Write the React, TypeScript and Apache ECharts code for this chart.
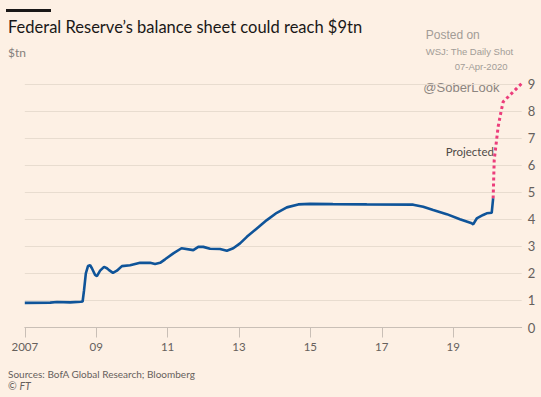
import React, { useEffect, useRef } from "react";
import * as echarts from "echarts";

const balanceYears = [2007.0, 2007.71, 2007.9, 2008.27, 2008.57, 2008.62, 2008.66, 2008.71, 2008.77, 2008.83, 2008.88, 2008.97, 2009.02, 2009.11, 2009.22, 2009.3, 2009.36, 2009.47, 2009.58, 2009.72, 2009.95, 2010.23, 2010.51, 2010.65, 2010.79, 2010.93, 2011.16, 2011.39, 2011.72, 2011.86, 2012.0, 2012.19, 2012.47, 2012.66, 2012.84, 2013.03, 2013.22, 2013.5, 2013.78, 2014.06, 2014.34, 2014.66, 2014.99, 2015.63, 2016.58, 2017.88, 2018.16, 2018.44, 2018.82, 2019.19, 2019.52, 2019.56, 2019.66, 2019.84, 2019.94, 2020.08, 2020.12];
const balanceValues = [0.91, 0.92, 0.94, 0.93, 0.95, 0.96, 1.38, 2.0, 2.27, 2.3, 2.19, 1.94, 1.9, 2.1, 2.24, 2.19, 2.12, 2.02, 2.1, 2.27, 2.3, 2.39, 2.39, 2.35, 2.39, 2.52, 2.74, 2.93, 2.86, 2.98, 2.98, 2.91, 2.9, 2.84, 2.93, 3.11, 3.35, 3.66, 3.97, 4.24, 4.44, 4.55, 4.57, 4.56, 4.55, 4.54, 4.46, 4.34, 4.19, 4.0, 3.85, 3.81, 4.03, 4.16, 4.22, 4.24, 4.77];

const projectedYears = [2020.12, 2020.15, 2020.26, 2020.34, 2020.4, 2020.59, 2020.78, 2020.92];
const projectedValues = [4.77, 6.19, 7.42, 7.97, 8.34, 8.59, 8.84, 9.02];

const xTickYears = [2007, 2009, 2011, 2013, 2015, 2017, 2019];
const yTicks = [0, 1, 2, 3, 4, 5, 6, 7, 8, 9];

const FONT = "Lato";
const BG = "#fdf0e4";

export default function App() {
  const ref = useRef<HTMLDivElement>(null);

  useEffect(() => {
    document.body.style.margin = "0";
    document.body.style.background = BG;
    if (!ref.current) return;
    const chart = echarts.init(ref.current, null, { renderer: "svg" });

    const balance = balanceYears.map((y, i) => [y, balanceValues[i]]);
    const projected = projectedYears.map((y, i) => [y, projectedValues[i]]);

    chart.setOption({
      animation: false,
      backgroundColor: BG,
      textStyle: { fontFamily: FONT },
      grid: { left: 24.8, right: 19.3, top: 84, bottom: 69.5, containLabel: false },
      xAxis: {
        type: "value",
        min: 2007,
        max: 2020.92,
        axisLine: { show: true, lineStyle: { color: "#c9bfb6", width: 1 } },
        axisTick: {
          show: true,
          length: 10,
          customValues: xTickYears,
          lineStyle: { color: "#c9bfb6" },
        },
        axisLabel: {
          customValues: xTickYears,
          margin: 13,
          color: "#66605c",
          fontSize: 11.5,
          fontFamily: FONT,
          formatter: (v: number) => (v === 2007 ? "2007" : String(v).slice(2)),
        },
        splitLine: { show: false },
      },
      yAxis: {
        type: "value",
        position: "right",
        min: 0,
        max: 9,
        interval: 1,
        axisLine: { show: false },
        axisTick: { show: false },
        axisLabel: {
          margin: 6,
          color: "#66605c",
          fontSize: 13,
          fontFamily: FONT,
          formatter: (v: number) => (yTicks.includes(v) ? String(v) : ""),
        },
        splitLine: { show: true, lineStyle: { color: "#e8dccf", width: 1 } },
      },
      series: [
        {
          type: "line",
          data: balance,
          showSymbol: false,
          clip: false,
          lineStyle: { color: "#0f5499", width: 2.6 },
          z: 3,
        },
        {
          type: "line",
          data: projected,
          showSymbol: false,
          clip: false,
          lineStyle: { color: "#ec3d7b", width: 3, type: [3, 3] },
          z: 2,
        },
      ],
      graphic: [
        { type: "rect", shape: { x: 6, y: 9, width: 45, height: 3 }, style: { fill: "#1a1817" } },
        {
          type: "text",
          x: 8,
          y: 26.5,
          style: {
            text: "Federal Reserve\u2019s balance sheet could reach $9tn",
            fontSize: 16.5,
            fontFamily: FONT,
            fill: "#1a1817",
            verticalAlign: "middle",
          },
        },
        {
          type: "text",
          x: 8,
          y: 52.5,
          style: { text: "$tn", fontSize: 12, fontFamily: FONT, fill: "#85807b", verticalAlign: "middle" },
        },
        {
          type: "text",
          x: 425.7,
          y: 35,
          style: { text: "Posted on", fontSize: 12, fontFamily: "Liberation Sans", fill: "#a29c97", verticalAlign: "middle" },
        },
        {
          type: "text",
          x: 425.7,
          y: 51.5,
          style: { text: "WSJ: The Daily Shot", fontSize: 9.5, fontFamily: "Liberation Sans", fill: "#a29c97", verticalAlign: "middle" },
        },
        {
          type: "text",
          x: 507.5,
          y: 66.5,
          style: { text: "07-Apr-2020", fontSize: 9.5, fontFamily: "Liberation Sans", fill: "#a29c97", verticalAlign: "middle", align: "right" },
        },
        {
          type: "text",
          x: 423.3,
          y: 87,
          style: { text: "@SoberLook", fontSize: 13, fontFamily: "Liberation Sans", fill: "#8c8580", verticalAlign: "middle" },
        },
        {
          type: "text",
          x: 445.7,
          y: 151.7,
          style: { text: "Projected", fontSize: 11.5, fontFamily: FONT, fill: "#4f4a46", verticalAlign: "middle" },
        },
        {
          type: "text",
          x: 8,
          y: 374.3,
          style: { text: "Sources: BofA Global Research; Bloomberg", fontSize: 10, fontFamily: FONT, fill: "#66605c", verticalAlign: "middle" },
        },
        {
          type: "text",
          x: 8,
          y: 386,
          style: {
            text: "\u00a9 {i|FT}",
            fontSize: 10.5,
            fontFamily: FONT,
            fill: "#66605c",
            verticalAlign: "middle",
            rich: { i: { fontStyle: "italic", fontSize: 10.5, fontFamily: FONT, fill: "#66605c" } },
          },
        },
      ],
    });

    return () => chart.dispose();
  }, []);

  return <div ref={ref} style={{ width: 541, height: 397 }} />;
}
